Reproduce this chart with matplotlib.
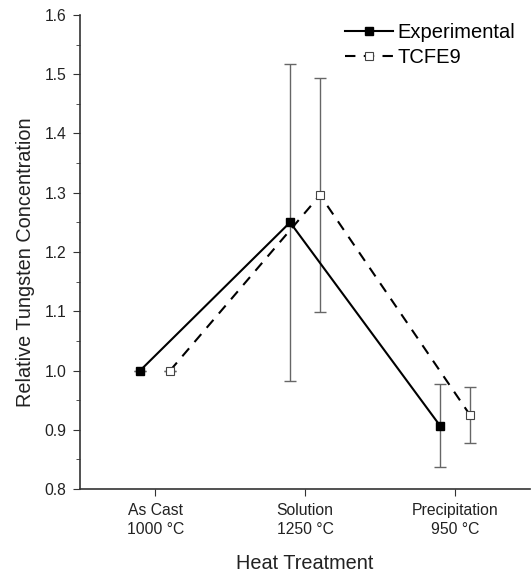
import numpy as np
import matplotlib.pyplot as plt
from matplotlib.ticker import MultipleLocator

plt.rcParams['font.family'] = ['Liberation Sans', 'DejaVu Sans']

# data
categories = ['As Cast\n1000 °C', 'Solution\n1250 °C', 'Precipitation\n950 °C']
exp_vals = [1.0, 1.25, 0.907]
exp_err = [0.0, 0.268, 0.07]
tcfe_vals = [1.0, 1.296, 0.925]
tcfe_err = [0.0, 0.197, 0.047]

x = np.arange(1, len(categories) + 1)

fig = plt.figure(figsize=(5.31, 5.74), dpi=100)
ax = fig.add_axes([0.151, 0.148, 0.847, 0.826])

ax.errorbar(x - 0.1, exp_vals, yerr=exp_err, fmt='none', ecolor='#666666',
            elinewidth=1, capsize=4, capthick=1)
ax.errorbar(x + 0.1, tcfe_vals, yerr=tcfe_err, fmt='none', ecolor='#666666',
            elinewidth=1, capsize=4, capthick=1)
ax.plot(x - 0.1, exp_vals, 'k-', marker='s', ms=6, mfc='black', mec='black',
        lw=1.5, label='Experimental')
ax.plot(x + 0.1, tcfe_vals, 'k--', marker='s', ms=6, mfc='white', mec='#444444',
        mew=0.8, lw=1.5, dashes=(5, 4), label='TCFE9')

ax.set_xlim(0.5, 3.5)
ax.set_ylim(0.8, 1.6)
ax.set_xticks(x)
ax.set_xticklabels(categories, linespacing=1.35)
ax.yaxis.set_major_locator(MultipleLocator(0.1))
ax.yaxis.set_minor_locator(MultipleLocator(0.05))
ax.yaxis.set_major_formatter(plt.FormatStrFormatter('%.1f'))
ax.tick_params(axis='both', which='both', direction='out', labelsize=11.3,
               color='#333333', labelcolor='#222222')
ax.tick_params(axis='both', which='major', length=5)
ax.tick_params(axis='x', which='major', pad=5)
ax.tick_params(axis='y', which='major', pad=5)
ax.tick_params(axis='y', which='minor', length=3)
for s in ['top', 'right']:
    ax.spines[s].set_visible(False)
for s in ['left', 'bottom']:
    ax.spines[s].set_linewidth(1.2)
    ax.spines[s].set_color('#333333')

ax.set_ylabel('Relative Tungsten Concentration', fontsize=14.3, color='#222222')
ax.yaxis.set_label_coords(-0.1, 0.478)
ax.set_xlabel('Heat Treatment', fontsize=14.3, labelpad=12, color='#222222')
ax.legend(loc='upper right', frameon=False, fontsize=14.5, handlelength=2.4,
          handletextpad=0.2, borderaxespad=0.0, labelspacing=0.3,
          bbox_to_anchor=(0.985, 1.0))

fig.savefig('out.png', dpi=100)
